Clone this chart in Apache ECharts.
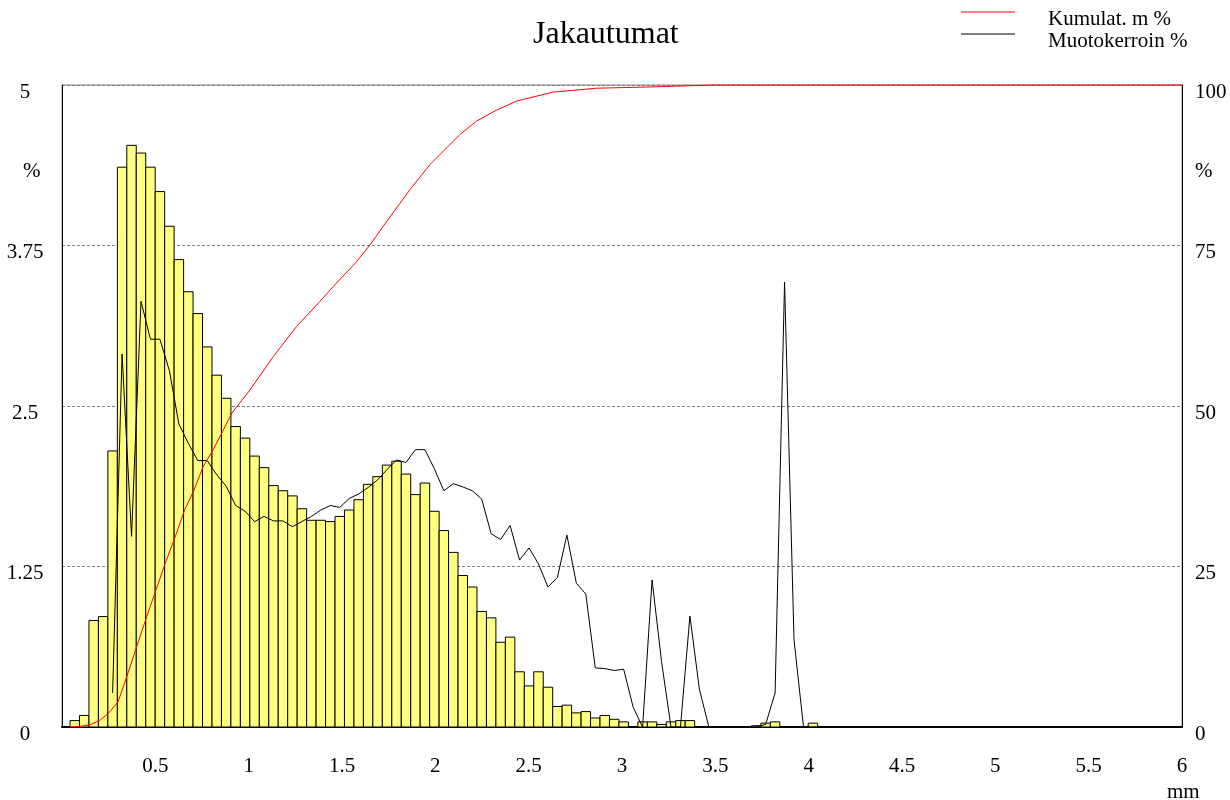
<!DOCTYPE html>
<html>
	<head>
		<meta charset="utf-8" />
    <title>Jakautumat</title>
    <style>
      html, body { margin: 0; padding: 0; background: #fff; }
      #chartBox { width: 1230px; height: 800px; }
    </style>
	</head>
	<body>
    <div id="chartBox"></div>
  </body>
	<script src="https://cdn.jsdelivr.net/npm/echarts/dist/echarts.min.js"></script>
  <script>
    // luokat (mm): alku ja leveys
    var binStart = 0.043;
    var binWidth = 0.0507;

    // pylväät, osuus % (vasen akseli)
    var shareValues = [
      0.05, 0.09, 0.83, 0.86, 2.15, 4.36, 4.53, 4.47, 4.36, 4.17,
      3.90, 3.64, 3.39, 3.22, 2.96, 2.74, 2.56, 2.34, 2.25, 2.11,
      2.02, 1.88, 1.84, 1.80, 1.70, 1.61, 1.61, 1.60, 1.64, 1.69,
      1.77, 1.89, 1.95, 2.04, 2.07, 1.97, 1.81, 1.90, 1.68, 1.53,
      1.36, 1.18, 1.09, 0.90, 0.85, 0.66, 0.70, 0.43, 0.32, 0.43,
      0.31, 0.16, 0.17, 0.11, 0.12, 0.07, 0.09, 0.06, 0.04, 0,
      0.04, 0.04, 0.02, 0.04, 0.05, 0.05, 0, 0, 0, 0,
      0, 0, 0.01, 0.03, 0.04, 0, 0, 0, 0.03, 0
    ];

    // Muotokerroin %, alkaa luokasta 4 (oikea akseli)
    var shapeFirstBin = 4;
    var shapeValues = [
      5.3, 58.1, 29.7, 66.3, 60.4, 60.4, 55.5, 47.2, 44.2, 41.5,
      41.5, 39.3, 37.5, 34.5, 33.6, 32.0, 32.8, 32.1, 32.1, 31.2,
      32.0, 32.8, 33.8, 34.5, 34.2, 35.6, 36.3, 37.3, 38.5, 40.1,
      41.6, 41.2, 43.2, 43.2, 40.2, 36.8, 37.9, 37.4, 36.8, 35.5,
      30.1, 29.2, 31.4, 26.0, 27.9, 25.4, 21.8, 23.3, 29.9, 22.4,
      20.7, 9.2, 9.1, 8.8, 9.0, 3.1, 0, 22.9, 10.2, 0,
      0, 17.3, 5.9, 0, 0, 0, 0, 0, 0, 0.4,
      5.3, 69.3, 13.6, 0, 0, 0
    ];

    // Kumulat. m % (oikea akseli)
    var cumX = [0.043, 0.094, 0.145, 0.20, 0.248, 0.30, 0.35, 0.40, 0.454, 0.504,
                0.553, 0.605, 0.657, 0.707, 0.757, 0.81, 0.86, 0.91, 1.007, 1.132,
                1.257, 1.382, 1.453, 1.579, 1.65, 1.721, 1.864, 1.971, 2.132, 2.222,
                2.329, 2.436, 2.632, 2.864, 3.15, 3.5, 6.0];
    var cumY = [0, 0.1, 0.3, 1.0, 2.1, 3.9, 8.1, 12.5, 17.2, 21.4,
                25.5, 29.5, 33.8, 36.9, 40.6, 43.2, 46.0, 48.9, 52.5, 57.7,
                62.4, 66.3, 68.6, 72.5, 75.1, 78.0, 83.7, 87.6, 92.3, 94.4,
                96.1, 97.5, 98.9, 99.5, 99.7, 100, 100];

    var leftTicks = { min: 0, max: 5, step: 1.25 };
    var rightTicks = { min: 0, max: 100, step: 25 };

    var _font = 'Liberation Serif, Times New Roman, serif';
    var _fontSize = 21;
    // selitteen viiva ylhäällä, teksti hieman alempana
    var legendIcon = 'path://M0,0H54V1H0Z M0,14.99H0.01V15H0Z';

    create_Chart('chartBox');

    function create_Chart(id) {
      var myChart = echarts.init(document.getElementById(id));
      myChart.setOption(create_Chart_option());
    }

    function create_Chart_option() {
      var barData = [];
      for (var i = 0; i < shareValues.length; i++) {
        if (shareValues[i] > 0) {
          barData.push([binStart + i * binWidth, binStart + (i + 1) * binWidth, shareValues[i]]);
        }
      }
      var shapeData = shapeValues.map(function (v, i) {
        return [binStart + (i + shapeFirstBin + 0.5) * binWidth, v];
      });
      var cumData = cumX.map(function (x, i) { return [x, cumY[i]]; });

      var labelStyle = {
        color: '#000',
        fontFamily: _font,
        fontSize: _fontSize,
        verticalAlign: 'top',
        lineHeight: 14
      };

      var option = {
        animation: false,
        textStyle: { fontFamily: _font, color: '#000' },
        title: {
          text: 'Jakautumat',
          left: 528,
          top: 14,
          textStyle: { fontFamily: _font, fontSize: 32, fontWeight: 'normal', color: '#000' }
        },
        legend: {
          data: ['Kumulat. m %', 'Muotokerroin %'],
          orient: 'vertical',
          left: 961,
          top: 8,
          padding: 0,
          itemGap: 0,
          itemWidth: 54,
          itemHeight: 15,
          icon: legendIcon,
          textStyle: {
            fontFamily: _font,
            fontSize: _fontSize,
            color: '#000',
            lineHeight: 22,
            padding: [0, 0, 0, 28]
          }
        },
        grid: {
          left: 62,
          right: 48,
          top: 85,
          bottom: 73,
          show: true,
          borderColor: '#808080',
          borderWidth: 1
        },
        xAxis: {
          type: 'value',
          min: 0,
          max: 6,
          interval: 0.5,
          axisLine: { show: true, onZero: false, lineStyle: { color: '#000', width: 2 } },
          axisTick: { show: false },
          splitLine: { show: false },
          axisLabel: {
            color: '#000',
            fontFamily: _font,
            fontSize: _fontSize,
            margin: 29,
            formatter: function (v) { return v === 0 ? '' : String(v); }
          }
        },
        yAxis: [
          {
            type: 'value',
            min: leftTicks.min,
            max: leftTicks.max,
            interval: leftTicks.step,
            position: 'left',
            axisLine: { show: true, lineStyle: { color: '#000', width: 1 } },
            axisTick: { show: false },
            splitLine: { show: true, lineStyle: { color: '#808080', type: [3, 2], width: 1 } },
            axisLabel: Object.assign({ align: 'center', margin: 37 }, labelStyle)
          },
          {
            type: 'value',
            min: rightTicks.min,
            max: rightTicks.max,
            interval: rightTicks.step,
            position: 'right',
            axisLine: { show: true, lineStyle: { color: '#000', width: 1 } },
            axisTick: { show: false },
            splitLine: { show: false },
            axisLabel: Object.assign({ align: 'left', margin: 13 }, labelStyle)
          }
        ],
        graphic: [
          { type: 'text', left: 23, top: 161, style: { text: '%', font: _fontSize + 'px ' + _font, fill: '#000' } },
          { type: 'text', left: 1195, top: 161, style: { text: '%', font: _fontSize + 'px ' + _font, fill: '#000' } },
          { type: 'text', left: 1167, top: 782, style: { text: 'mm', font: _fontSize + 'px ' + _font, fill: '#000' } }
        ],
        series: [
          {
            name: 'Osuus %',
            type: 'custom',
            xAxisIndex: 0,
            yAxisIndex: 0,
            encode: { x: [0, 1], y: 2 },
            renderItem: function (params, api) {
              var p0 = api.coord([api.value(0), api.value(2)]);
              var p1 = api.coord([api.value(1), 0]);
              return {
                type: 'rect',
                shape: { x: p0[0], y: p0[1], width: p1[0] - p0[0], height: p1[1] - p0[1] },
                style: { fill: '#ffff80', stroke: '#000', lineWidth: 1 }
              };
            },
            data: barData,
            z: 1
          },
          {
            name: 'Kumulat. m %',
            type: 'line',
            yAxisIndex: 1,
            showSymbol: false,
            symbol: 'none',
            clip: false,
            color: '#ff0000',
            itemStyle: { color: '#ff0000' },
            lineStyle: { color: '#ff0000', width: 1 },
            data: cumData,
            z: 3
          },
          {
            name: 'Muotokerroin %',
            type: 'line',
            yAxisIndex: 1,
            showSymbol: false,
            symbol: 'none',
            color: '#000',
            itemStyle: { color: '#000' },
            lineStyle: { color: '#000', width: 1 },
            data: shapeData,
            z: 2
          }
        ]
      };
      return option;
    }
  </script>
  </html>
